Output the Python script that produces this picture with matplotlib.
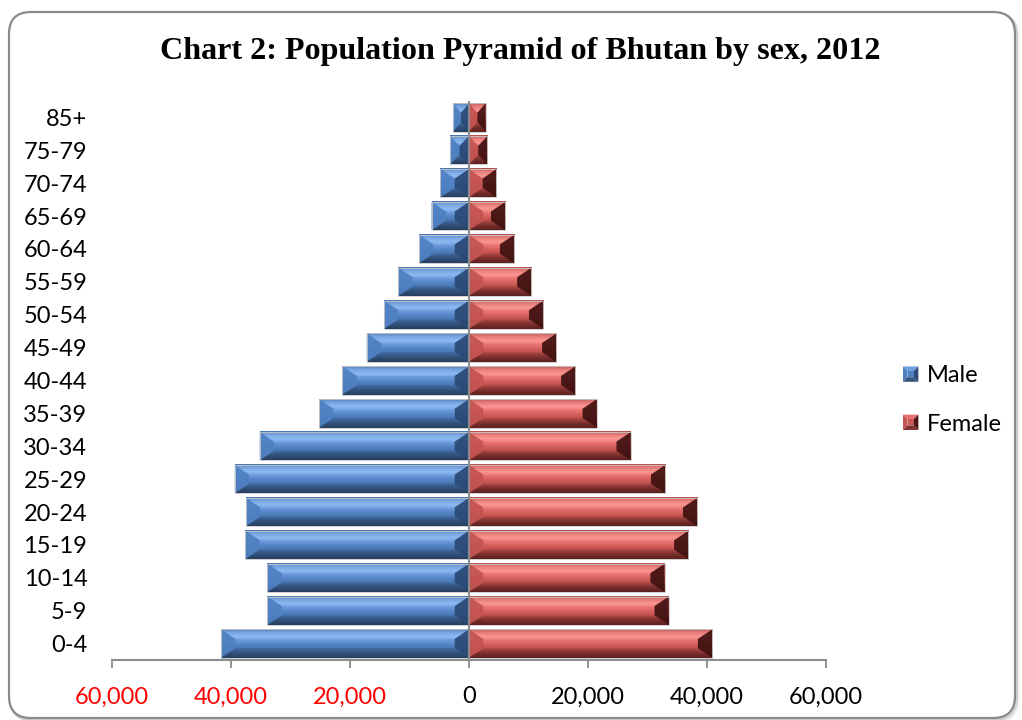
import matplotlib
matplotlib.use("Agg")
import matplotlib.pyplot as plt
import numpy as np
from matplotlib.colors import LinearSegmentedColormap
from matplotlib.patches import Polygon, FancyBboxPatch, Patch
from matplotlib.legend_handler import HandlerBase
from matplotlib.transforms import IdentityTransform

# age groups, youngest first (drawn bottom to top)
age_groups = ["0-4", "5-9", "10-14", "15-19", "20-24", "25-29", "30-34", "35-39",
              "40-44", "45-49", "50-54", "55-59", "60-64", "65-69", "70-74", "75-79", "85+"]
male = [41700, 33900, 33900, 37600, 37500, 39400, 35200, 25200,
        21300, 17200, 14300, 11900, 8400, 6300, 4800, 3200, 2700]
female = [40900, 33600, 32900, 36900, 38400, 33000, 27200, 21500,
          17900, 14700, 12500, 10500, 7600, 6100, 4600, 3100, 2800]
ticks = [-60000, -40000, -20000, 0, 20000, 40000, 60000]

plt.rcParams['font.family'] = ['Lato', 'DejaVu Sans']

# bevel shading: vertical profile of the bar face + end caps
male_cmap = LinearSegmentedColormap.from_list("m", [
    (0.00, "#4672ad"), (0.10, "#6698da"), (0.25, "#80b2f2"), (0.40, "#6898da"),
    (0.55, "#5282c2"), (0.70, "#4876b2"), (0.80, "#3d6396"), (0.90, "#34567e"),
    (1.00, "#2c4870")])
female_cmap = LinearSegmentedColormap.from_list("f", [
    (0.00, "#b24d4b"), (0.10, "#e06b68"), (0.25, "#fa8a87"), (0.40, "#ea7371"),
    (0.55, "#d05d5a"), (0.70, "#be4f4c"), (0.80, "#993c3a"), (0.90, "#7d2f2d"),
    (1.00, "#692624")])
male_caps = ("#4f80c2", "#2a4874")      # left end, right end
female_caps = ("#c45451", "#3f1110")

BAR_H = 0.86
BEVEL_X = 2400
BEVEL_Y = 0.29

grad = np.linspace(0, 1, 64).reshape(-1, 1)


def bevel_bar(ax, x0, x1, y, cmap, caps):
    y0, y1 = y - BAR_H / 2, y + BAR_H / 2
    ax.imshow(grad, cmap=cmap, aspect='auto', interpolation='bilinear',
              extent=(x0, x1, y0, y1), origin='upper', zorder=2)
    dx = min(BEVEL_X, (x1 - x0) / 2)
    top = [(x0, y1), (x1, y1), (x1 - dx, y1 - BEVEL_Y), (x0 + dx, y1 - BEVEL_Y)]
    bottom = [(x0, y0), (x1, y0), (x1 - dx, y0 + BEVEL_Y), (x0 + dx, y0 + BEVEL_Y)]
    left = [(x0, y0), (x0, y1), (x0 + dx, y1 - BEVEL_Y), (x0 + dx, y0 + BEVEL_Y)]
    right = [(x1, y0), (x1, y1), (x1 - dx, y1 - BEVEL_Y), (x1 - dx, y0 + BEVEL_Y)]
    ax.add_patch(Polygon(top, closed=True, fc='white', ec='none', alpha=0.10, zorder=3))
    ax.add_patch(Polygon(bottom, closed=True, fc='black', ec='none', alpha=0.12, zorder=3))
    ax.add_patch(Polygon(left, closed=True, fc=caps[0], ec='none', alpha=0.92, zorder=3))
    ax.add_patch(Polygon(right, closed=True, fc=caps[1], ec='none', alpha=0.92, zorder=3))
    ax.add_patch(Polygon([(x0, y0), (x0, y1), (x1, y1), (x1, y0)], closed=True,
                         fc='none', ec='#c9c9c9', lw=0.6, zorder=4))


class BevelHandler(HandlerBase):
    def __init__(self, top, left, right, bottom):
        super().__init__()
        self.cols = (top, left, right, bottom)

    def create_artists(self, legend, orig_handle, xdescent, ydescent,
                       width, height, fontsize, trans):
        s = min(width, height)
        x0 = -xdescent + (width - s) / 2
        y0 = -ydescent + (height - s) / 2
        k = s * 0.3
        tl, tr = (x0, y0 + s), (x0 + s, y0 + s)
        bl, br = (x0, y0), (x0 + s, y0)
        itl, itr = (x0 + k, y0 + s - k), (x0 + s - k, y0 + s - k)
        ibl, ibr = (x0 + k, y0 + k), (x0 + s - k, y0 + k)
        shapes = [
            ([tl, tr, itr, itl], self.cols[0]),
            ([tl, bl, ibl, itl], self.cols[1]),
            ([tr, br, ibr, itr], self.cols[2]),
            ([bl, br, ibr, ibl], self.cols[3]),
            ([itl, itr, ibr, ibl], self.cols[1]),
        ]
        return [Polygon(p, closed=True, fc=c, ec='none', transform=trans) for p, c in shapes]


fig = plt.figure(figsize=(10.22, 7.2), dpi=100)

# rounded chart frame with a soft shadow
for i, a in enumerate([0.10, 0.07, 0.04]):
    fig.add_artist(FancyBboxPatch((9 + i + 1, 2 - i - 1), 1006, 706,
                                  boxstyle="round,pad=0,rounding_size=22",
                                  transform=IdentityTransform(), fc='none',
                                  ec=(0, 0, 0, a), lw=2.5, zorder=0))
fig.add_artist(FancyBboxPatch((9, 2), 1006, 706, boxstyle="round,pad=0,rounding_size=22",
                              transform=IdentityTransform(), fc='white',
                              ec='#8a8a8a', lw=1.6, zorder=0))

ax = fig.add_axes([112.3 / 1022, 1 - 660 / 720, (825.7 - 112.3) / 1022, (660 - 101) / 720])
ax.patch.set_alpha(0)

y = np.arange(len(age_groups))
for yi, m, f in zip(y, male, female):
    bevel_bar(ax, -m, 0, yi, male_cmap, male_caps)
    bevel_bar(ax, 0, f, yi, female_cmap, female_caps)

ax.axvline(0, color='#8c8c8c', lw=1.5, zorder=5)

ax.set_xlim(-60000, 60000)
ax.set_ylim(-0.5, len(age_groups) - 0.5)

ax.set_yticks(y)
ax.set_yticklabels(age_groups, fontsize=17)
ax.tick_params(axis='y', length=0, pad=18)

ax.set_xticks(ticks)
ax.set_xticklabels([f"{abs(t):,}" for t in ticks], fontsize=17)
for lbl, t in zip(ax.get_xticklabels(), ticks):
    if t < 0:
        lbl.set_color('#ff0000')
ax.tick_params(axis='x', length=6, width=1.3, color='#8c8c8c', pad=13)

for side in ('top', 'right', 'left'):
    ax.spines[side].set_visible(False)
ax.spines['bottom'].set_color('#8c8c8c')
ax.spines['bottom'].set_linewidth(1.5)

fig.text(520 / 1022, 1 - 52 / 720, "Chart 2: Population Pyramid of Bhutan by sex, 2012",
         family='Liberation Serif', fontweight='bold', fontsize=23.1,
         ha='center', va='center')

h_m = Patch(label="Male")
h_f = Patch(label="Female")
fig.legend(handles=[h_m, h_f], labels=["Male", "Female"],
           handler_map={h_m: BevelHandler("#6c9ee0", "#4f80c0", "#2c4b78", "#35577f"),
                        h_f: BevelHandler("#e5706d", "#c65653", "#4a1514", "#7e302e")},
           loc='center left', bbox_to_anchor=(903 / 1022, 1 - 400 / 720),
           frameon=False, fontsize=17, handlelength=0.65, handleheight=0.65,
           handletextpad=0.35, labelspacing=1.15, borderpad=0, borderaxespad=0)

fig.savefig("out.png", dpi=100)
